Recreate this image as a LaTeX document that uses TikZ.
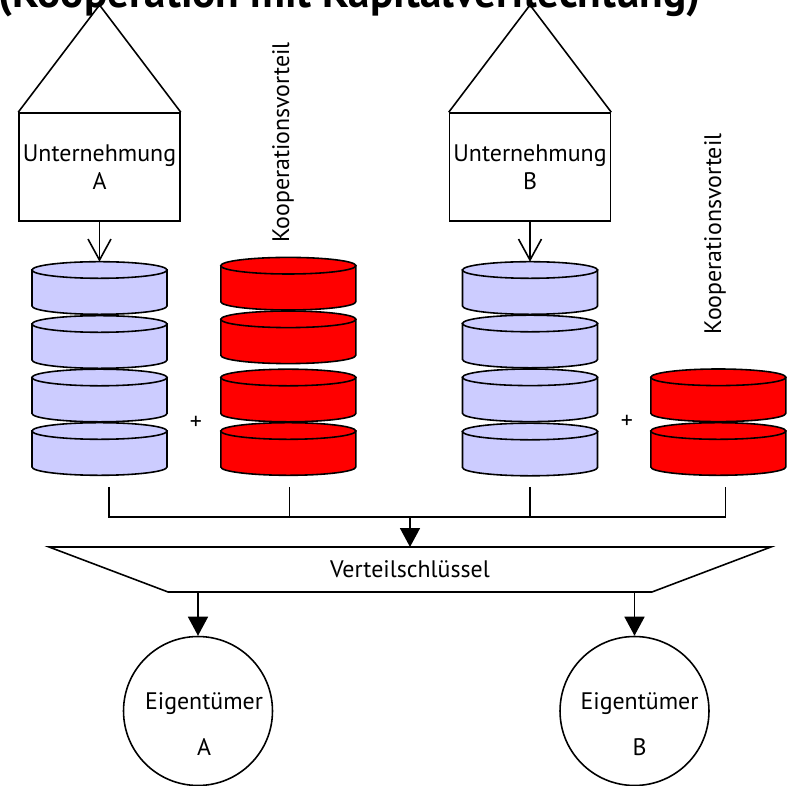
\documentclass[tikz,border=0pt]{standalone}
\usepackage{fontspec}
\setmainfont{PT Sans}
\usepackage{tikz}
\usetikzlibrary{arrows.meta}

\definecolor{diskblue}{RGB}{204,204,255}
\definecolor{diskred}{RGB}{255,0,0}

% one disk of a stack: name, x, y of the top face, colour
\newcommand{\disk}[4]{%
  \filldraw[fill=#4] (#2-67.5,#3) -- ++(0,36) arc[start angle=180, end angle=0, x radius=67.5, y radius=8.3] -- (#2+67.5,#3) -- cycle;
  \filldraw[fill=#4] (#2,#3) ellipse [x radius=67.5, y radius=8.3];
  \coordinate (#1) at (#2,#3-8.3);
}

\begin{document}
\begin{tikzpicture}[x=0.02cm, y=-0.02cm, line width=0.9pt, font=\fontsize{13.6}{16}\selectfont]
  \tikzstyle{firm}=[draw, rectangle, minimum width=3.22cm, minimum height=2.16cm, align=center, inner sep=0pt]
  \tikzstyle{owner}=[draw, circle, minimum size=2.98cm, inner sep=0pt]
  \tikzstyle{keybox}=[rectangle, minimum width=9.68cm, minimum height=0.9cm, inner sep=0pt, outer sep=0pt]
  \tikzstyle{openarrow}=[-{Straight Barb[length=4.2mm, width=4.6mm]}]
  \tikzstyle{fillarrow}=[-{Triangle[length=3.8mm, width=4mm]}]

  \clip (0,0) rectangle (791,786);

  \node[font=\bfseries\fontsize{24.6}{29}\selectfont, anchor=base west, inner sep=0pt] (title) at (-2,8) {(Kooperation mit Kapitalverflechtung)};

  % firms
  \node[firm] (unA) at (99.5,167) {Unternehmung\\A};
  \node[firm] (unB) at (530,167) {Unternehmung\\B};
  \draw (unA.north west) -- (99.5,5) -- (unA.north east);
  \draw (unB.north west) -- (530,5) -- (unB.north east);

  % stacks
  \disk{dA1}{99.5}{270}{diskblue}
  \disk{dA2}{99.5}{324}{diskblue}
  \disk{dA3}{99.5}{377.5}{diskblue}
  \disk{dA4}{99.5}{431}{diskblue}
  \disk{rA1}{288.3}{265.7}{diskred}
  \disk{rA2}{288.3}{319.3}{diskred}
  \disk{rA3}{288.3}{377.5}{diskred}
  \disk{rA4}{288.3}{431}{diskred}
  \disk{dB1}{530}{270}{diskblue}
  \disk{dB2}{530}{323.5}{diskblue}
  \disk{dB3}{530}{377.3}{diskblue}
  \disk{dB4}{530}{431.5}{diskblue}
  \disk{rB1}{718.3}{377.3}{diskred}
  \disk{rB2}{718.3}{431}{diskred}

  \node (plusA) at (196,423) {+};
  \node (plusB) at (627,422) {+};
  \node[rotate=90] (kvA) at (283,142.5) {Kooperationsvorteil};
  \node[rotate=90] (kvB) at (715,234) {Kooperationsvorteil};

  \draw[openarrow] (unA) -- (dA1);
  \draw[openarrow] (unB) -- (dB1);

  % collecting line
  \coordinate (sA) at (109,487);
  \coordinate (sB) at (289.3,487);
  \coordinate (sC) at (530,487);
  \coordinate (sD) at (725.7,487);
  \coordinate (hub) at (410,517);
  \draw (sA) -- (sA |- hub) -- (sD |- hub) -- (sD);
  \draw (sB) -- (sB |- hub);
  \draw (sC) -- (sC |- hub);

  \node[keybox] (key) at (410,569.5) {Verteilschlüssel};
  \draw ([xshift=-2.38cm]key.north west) -- ([xshift=2.38cm]key.north east) -- (key.south east) -- (key.south west) -- cycle;
  \draw[fillarrow] (hub) -- (key);

  % owners
  \node[owner] (eigA) at (198,711) {};
  \node[owner] (eigB) at (634.5,711) {};
  \node[align=center] (txA) at (204,724) {Eigentümer\\[10pt]A};
  \node[align=center] (txB) at (639.5,724) {Eigentümer\\[10pt]B};
  \draw[fillarrow] (key.south -| eigA) -- (eigA);
  \draw[fillarrow] (key.south -| eigB) -- (eigB);
\end{tikzpicture}
\end{document}
